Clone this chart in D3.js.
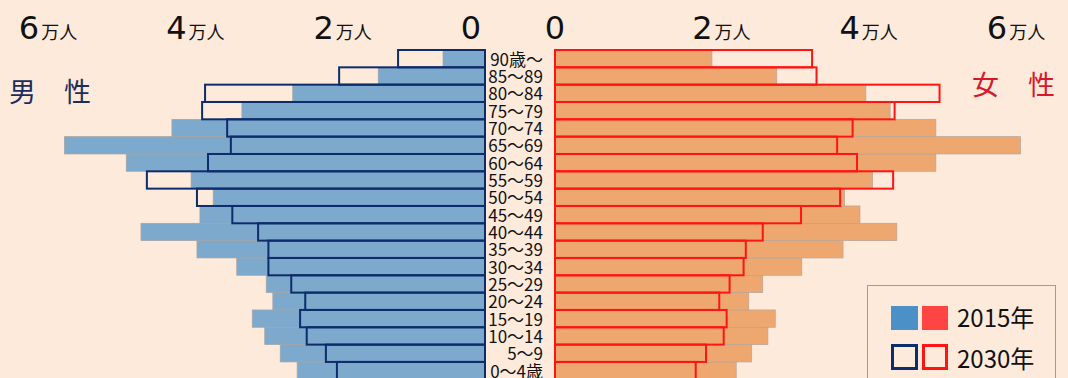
<!DOCTYPE html>
<html>
<head>
<meta charset="utf-8">
<script src="https://cdn.jsdelivr.net/npm/d3@7"></script>
<style>
  body { margin: 0; background: #fdeadb; }
  svg { display: block; }
</style>
</head>
<body>
<div id="chart"></div>
<script>
// age groups, youngest first
const ages = ["0～4歳","5～9","10～14","15～19","20～24","25～29","30～34","35～39","40～44","45～49",
              "50～54","55～59","60～64","65～69","70～74","75～79","80～84","85～89","90歳～"];

// population (persons)
const male2015   = [25500,27800,29900,31600,28800,29700,33700,39100,46700,38700,36900,39900,48700,57100,42500,33000,26100,14500,5700];
const male2030   = [20100,21600,24200,25100,24400,26300,29400,29400,30800,34300,39100,45900,37600,34500,35000,38400,38000,19800,11800];
const female2015 = [24600,26700,28900,29900,26300,28200,33500,39100,46400,41400,39300,43100,51700,63200,51700,45500,42200,30100,21300];
const female2030 = [19100,20500,22900,23300,22300,23700,25600,25900,28200,33400,38700,45900,41000,38300,40400,46100,52200,35500,34900];

const ticks = [0, 20000, 40000, 60000];
const legendYears = ["2015年", "2030年"];

const width = 1068, height = 378;
const bg = "#fdeadb";
const navy = "#0d2c6c", red = "#ff1414";

const svg = d3.select("#chart").append("svg")
    .attr("width", width)
    .attr("height", height);

svg.append("rect").attr("width", width).attr("height", height).attr("fill", bg);

const xL = d3.scaleLinear().domain([0, 60000]).range([485, 43]);
const xR = d3.scaleLinear().domain([0, 60000]).range([555, 997]);
const y = d3.scaleBand().domain(ages.slice().reverse()).range([50, 50 + 19 * 17.33]);

const rows = ages.map((a, i) => ({ age: a, m15: male2015[i], m30: male2030[i], f15: female2015[i], f30: female2030[i] }));

// 2015 filled bars
svg.append("g").selectAll("rect")
    .data(rows).enter().append("rect")
    .attr("x", d => xL(d.m15))
    .attr("y", d => y(d.age))
    .attr("width", d => xL(0) - xL(d.m15))
    .attr("height", y.bandwidth())
    .attr("fill", "#7da9cd")
    .attr("stroke", "#a4a4a4")
    .attr("stroke-width", 0.7);

svg.append("g").selectAll("rect")
    .data(rows).enter().append("rect")
    .attr("x", xR(0))
    .attr("y", d => y(d.age))
    .attr("width", d => xR(d.f15) - xR(0))
    .attr("height", y.bandwidth())
    .attr("fill", "#eea86f")
    .attr("stroke", "#b4a49a")
    .attr("stroke-width", 0.7);

// 2030 outlines
svg.append("g").selectAll("rect")
    .data(rows).enter().append("rect")
    .attr("x", d => xL(d.m30))
    .attr("y", d => y(d.age))
    .attr("width", d => xL(0) - xL(d.m30))
    .attr("height", y.bandwidth())
    .attr("fill", "none")
    .attr("stroke", navy)
    .attr("stroke-width", 2);

svg.append("g").selectAll("rect")
    .data(rows).enter().append("rect")
    .attr("x", xR(0))
    .attr("y", d => y(d.age))
    .attr("width", d => xR(d.f30) - xR(0))
    .attr("height", y.bandwidth())
    .attr("fill", "none")
    .attr("stroke", red)
    .attr("stroke-width", 2);

// age labels
svg.append("g").selectAll("text")
    .data(rows).enter().append("text")
    .attr("x", 543)
    .attr("y", d => y(d.age) + y.bandwidth() - 1.5)
    .attr("text-anchor", "end")
    .attr("font-family", "'Noto Sans CJK JP', sans-serif")
    .attr("font-size", 17)
    .attr("fill", "#111")
    .text(d => d.age);

// top axis labels
function tickLabel(x, v) {
    const g = svg.append("g");
    const t = g.append("text")
        .attr("x", x).attr("y", 39)
        .attr("text-anchor", "middle")
        .attr("font-family", "'DejaVu Sans', sans-serif")
        .attr("font-size", 32)
        .attr("fill", "#111")
        .text(v / 10000);
    if (v > 0) {
        const w = t.node().getBBox().width;
        g.append("text")
            .attr("x", x + w / 2 + 2).attr("y", 39)
            .attr("font-family", "'Noto Sans CJK JP', sans-serif")
            .attr("font-size", 18)
            .attr("fill", "#111")
            .text("万人");
    }
}
ticks.forEach(v => tickLabel(xL(v) - 14, v));
ticks.forEach(v => tickLabel(xR(v), v));

// sex labels
svg.append("text")
    .attr("x", 9).attr("y", 102)
    .attr("font-family", "'Noto Sans CJK JP', sans-serif")
    .attr("font-size", 27)
    .attr("fill", "#1b2d5e")
    .text("男");
svg.append("text")
    .attr("x", 64).attr("y", 102)
    .attr("font-family", "'Noto Sans CJK JP', sans-serif")
    .attr("font-size", 27)
    .attr("fill", "#1b2d5e")
    .text("性");
svg.append("text")
    .attr("x", 972).attr("y", 95)
    .attr("font-family", "'Noto Sans CJK JP', sans-serif")
    .attr("font-size", 27)
    .attr("fill", "#d7192b")
    .text("女");
svg.append("text")
    .attr("x", 1028).attr("y", 95)
    .attr("font-family", "'Noto Sans CJK JP', sans-serif")
    .attr("font-size", 27)
    .attr("fill", "#d7192b")
    .text("性");

// legend
const lg = svg.append("g");
lg.append("rect")
    .attr("x", 867.5).attr("y", 285.5)
    .attr("width", 188).attr("height", 110)
    .attr("fill", bg)
    .attr("stroke", "#9c9c9c");

lg.append("rect").attr("x", 891).attr("y", 306).attr("width", 27).attr("height", 24).attr("fill", "#4b91c8");
lg.append("rect").attr("x", 922).attr("y", 306).attr("width", 26).attr("height", 24).attr("fill", "#ff4444");
lg.append("rect").attr("x", 892.5).attr("y", 345.5).attr("width", 24).attr("height", 23)
    .attr("fill", "none").attr("stroke", navy).attr("stroke-width", 3);
lg.append("rect").attr("x", 923.5).attr("y", 345.5).attr("width", 23).attr("height", 23)
    .attr("fill", "none").attr("stroke", red).attr("stroke-width", 3);

lg.selectAll("text.year")
    .data(legendYears).enter().append("text")
    .attr("class", "year")
    .attr("x", 957)
    .attr("y", (d, i) => 327 + i * 41)
    .attr("font-family", "'Noto Sans CJK JP', sans-serif")
    .attr("font-size", 24)
    .attr("fill", "#111")
    .text(d => d);
</script>
</body>
</html>
